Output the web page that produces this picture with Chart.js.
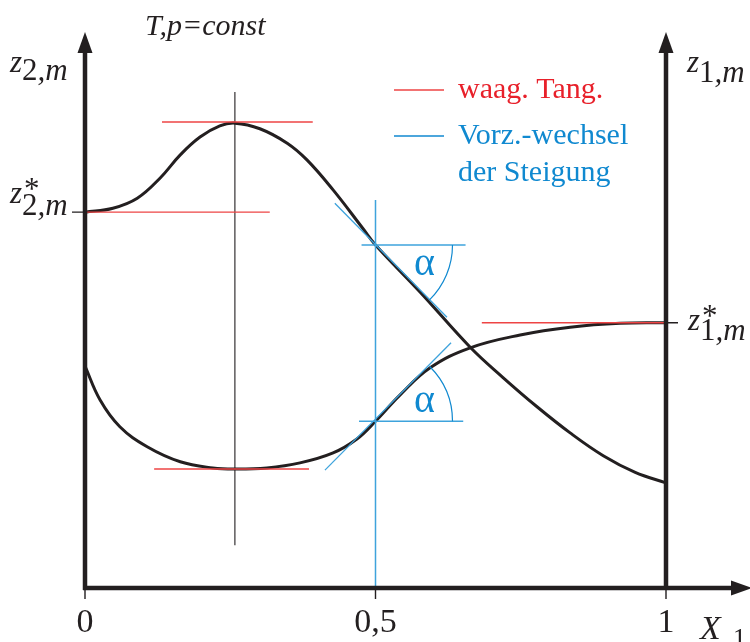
<!DOCTYPE html>
<html>
<head>
<meta charset="utf-8">
<title>z1,m und z2,m über X1</title>
<script src="https://cdn.jsdelivr.net/npm/chart.js@4.4.1/dist/chart.umd.min.js"></script>
<style>
  html, body { margin: 0; padding: 0; background: #fff; }
</style>
</head>
<body>
<canvas id="zChart" width="750" height="642"></canvas>
<script>
// Molenbruch X1 und die beiden Kurven z2,m (oben) und z1,m (unten)
const z2X = [0, 0.048, 0.09, 0.129, 0.164, 0.198, 0.232, 0.258, 0.301, 0.348, 0.382, 0.427, 0.478, 0.5, 0.577, 0.663, 0.719, 0.778, 0.835, 0.892, 0.947, 1];
const z2Y = [0.676, 0.683, 0.701, 0.737, 0.779, 0.811, 0.831, 0.836, 0.826, 0.800, 0.770, 0.716, 0.647, 0.617, 0.532, 0.433, 0.379, 0.326, 0.279, 0.238, 0.208, 0.189];
const z1X = [0, 0.026, 0.060, 0.107, 0.164, 0.220, 0.258, 0.313, 0.370, 0.427, 0.468, 0.5, 0.542, 0.594, 0.663, 0.749, 0.835, 0.921, 1];
const z1Y = [0.399, 0.338, 0.290, 0.254, 0.227, 0.216, 0.214, 0.216, 0.225, 0.243, 0.268, 0.300, 0.347, 0.396, 0.432, 0.455, 0.469, 0.476, 0.477];

// Achsenbeschriftung
const tickValues = [0, 0.5, 1];
const tickLabels = ['0', '0,5', '1'];

// waagerechte Tangenten: [x von, x bis, y]
const flatTangents = [
  [0.1325, 0.392, 0.838],
  [0, 0.318, 0.676],
  [0.119, 0.3855, 0.214],
  [0.683, 1, 0.477]
];
// Wendetangenten (Vorzeichenwechsel der Steigung): [x1, y1, x2, y2]
const slopeTangents = [
  [0.430, 0.692, 0.623, 0.487],
  [0.413, 0.212, 0.630, 0.441]
];
// Hilfslinien am Wendepunkt: [x von, x bis, y]
const slopeLevels = [
  [0.476, 0.655, 0.617],
  [0.4716, 0.651, 0.300]
];
const z2Star = 0.676;
const z1Star = 0.477;
const xExtremum = 0.258;
const xInflection = 0.5;

const INK = '#231f20';
const RED = '#ee4444';
const RED_TEXT = '#e8202a';
const BLUE = '#3ea3dc';
const BLUE_TEXT = '#1089d0';
const SERIF = '"Liberation Serif", "DejaVu Serif", serif';

const pts = (xs, ys) => xs.map((x, i) => ({ x: x, y: ys[i] }));

const datasets = [];
flatTangents.forEach(t => datasets.push({
  data: [{ x: t[0], y: t[2] }, { x: t[1], y: t[2] }],
  borderColor: RED, borderWidth: 1.4
}));
slopeLevels.forEach(t => datasets.push({
  data: [{ x: t[0], y: t[2] }, { x: t[1], y: t[2] }],
  borderColor: BLUE, borderWidth: 1.6
}));
slopeTangents.forEach(t => datasets.push({
  data: [{ x: t[0], y: t[1] }, { x: t[2], y: t[3] }],
  borderColor: BLUE, borderWidth: 1.3
}));
datasets.push({
  data: [{ x: xExtremum, y: 0.892 }, { x: xExtremum, y: 0.077 }],
  borderColor: INK, borderWidth: 1.1
});
datasets.push({
  data: [{ x: xInflection, y: 0.698 }, { x: xInflection, y: 0 }],
  borderColor: BLUE, borderWidth: 1.5
});
datasets.push({
  label: 'z2,m', data: pts(z2X, z2Y),
  borderColor: INK, borderWidth: 3, tension: 0.4
});
datasets.push({
  label: 'z1,m', data: pts(z1X, z1Y),
  borderColor: INK, borderWidth: 3, tension: 0.4
});
datasets.forEach(d => { d.showLine = true; d.pointRadius = 0; d.clip = false; d.fill = false; });

// z mit Index (und optional Stern)
function zLabel(ctx, x, base, idx, star, subDrop) {
  ctx.fillStyle = INK;
  ctx.textAlign = 'left';
  ctx.textBaseline = 'alphabetic';
  ctx.font = 'italic 31px ' + SERIF;
  ctx.fillText('z', x, base);
  const zw = ctx.measureText('z').width;
  ctx.font = '31px ' + SERIF;
  ctx.fillText(idx, x + zw, base + subDrop);
  const dw = ctx.measureText(idx).width;
  ctx.font = 'italic 31px ' + SERIF;
  ctx.fillText(',m', x + zw + dw, base + subDrop);
  if (star) {
    ctx.font = '31px ' + SERIF;
    ctx.fillText('*', x + zw + 2, base - 4);
  }
}

const decoration = {
  id: 'decoration',
  afterDatasetsDraw(chart) {
    const ctx = chart.ctx;
    const xs = chart.scales.x, ys = chart.scales.y;
    const X = v => xs.getPixelForValue(v);
    const Y = v => ys.getPixelForValue(v);
    const x0 = X(0), x1 = X(1), yb = Y(0), yt = Y(1);
    ctx.save();

    // Achsen
    ctx.strokeStyle = INK;
    ctx.fillStyle = INK;
    ctx.lineWidth = 4.5;
    ctx.lineCap = 'butt';
    ctx.beginPath();
    ctx.moveTo(x0, yt + 16); ctx.lineTo(x0, yb + 2);
    ctx.moveTo(x0 - 2, yb); ctx.lineTo(735, yb);
    ctx.moveTo(x1, yt + 16); ctx.lineTo(x1, yb + 2);
    ctx.stroke();
    const arrowUp = (x) => {
      ctx.beginPath();
      ctx.moveTo(x, yt); ctx.lineTo(x - 7.5, yt + 21); ctx.lineTo(x + 7.5, yt + 21); ctx.closePath(); ctx.fill();
    };
    arrowUp(x0); arrowUp(x1);
    ctx.beginPath();
    ctx.moveTo(752, yb); ctx.lineTo(731, yb - 7.5); ctx.lineTo(731, yb + 7.5); ctx.closePath(); ctx.fill();

    // Teilstriche
    ctx.lineWidth = 1.4;
    ctx.beginPath();
    tickValues.forEach(v => { ctx.moveTo(X(v), yb + 2); ctx.lineTo(X(v), yb + 11); });
    ctx.moveTo(x0 - 13, Y(z2Star)); ctx.lineTo(x0, Y(z2Star));
    ctx.moveTo(x1, Y(z1Star)); ctx.lineTo(x1 + 12, Y(z1Star));
    ctx.stroke();

    ctx.font = '34px ' + SERIF;
    ctx.textAlign = 'center';
    ctx.textBaseline = 'alphabetic';
    tickValues.forEach((v, i) => ctx.fillText(tickLabels[i], X(v), yb + 44));

    // X1
    ctx.textAlign = 'left';
    ctx.font = 'italic 34px ' + SERIF;
    ctx.fillText('X', 700, yb + 51);
    ctx.font = '26px ' + SERIF;
    ctx.fillText('1', 733, yb + 58);

    // Achsentitel
    zLabel(ctx, 10, 72, '2', false, 8);
    zLabel(ctx, 687, 72, '1', false, 10);
    zLabel(ctx, 10, 203, '2', true, 12);
    zLabel(ctx, 688, 330, '1', true, 10);

    ctx.font = 'italic 30px ' + SERIF;
    ctx.fillText('T,p=const', 145, 35);

    // Winkelbögen am Wendepunkt
    ctx.strokeStyle = BLUE_TEXT;
    ctx.lineWidth = 1.2;
    const up = slopeTangents[0], lo = slopeTangents[1];
    const cu = { x: X(xInflection), y: Y(slopeLevels[0][2]) };
    const cl = { x: X(xInflection), y: Y(slopeLevels[1][2]) };
    const au = Math.atan2(Y(up[3]) - Y(up[1]), X(up[2]) - X(up[0]));
    const al = Math.atan2(Y(lo[3]) - Y(lo[1]), X(lo[2]) - X(lo[0]));
    ctx.beginPath(); ctx.arc(cu.x, cu.y, 77, 0, au); ctx.stroke();
    ctx.beginPath(); ctx.arc(cl.x, cl.y, 77, al, 0); ctx.stroke();
    ctx.fillStyle = BLUE_TEXT;
    ctx.font = '40px ' + SERIF;
    ctx.textAlign = 'center';
    ctx.textBaseline = 'middle';
    ctx.fillText('α', cu.x + 49, cu.y + 20);
    ctx.fillText('α', cl.x + 49, cl.y - 20);

    // Legende
    ctx.textAlign = 'left';
    ctx.textBaseline = 'alphabetic';
    ctx.lineWidth = 1.4;
    ctx.strokeStyle = RED;
    ctx.beginPath(); ctx.moveTo(394, 90); ctx.lineTo(444, 90); ctx.stroke();
    ctx.strokeStyle = BLUE_TEXT;
    ctx.beginPath(); ctx.moveTo(394, 136); ctx.lineTo(444, 136); ctx.stroke();
    ctx.font = '30px ' + SERIF;
    ctx.fillStyle = RED_TEXT;
    ctx.fillText('waag. Tang.', 458, 98);
    ctx.fillStyle = BLUE_TEXT;
    ctx.fillText('Vorz.-wechsel', 458, 144);
    ctx.fillText('der Steigung', 458, 181);

    ctx.restore();
  }
};

new Chart(document.getElementById('zChart').getContext('2d'), {
  type: 'scatter',
  data: { datasets: datasets },
  options: {
    responsive: false,
    animation: false,
    layout: { padding: { left: 85, right: 84, top: 32, bottom: 54 } },
    scales: {
      x: { type: 'linear', min: 0, max: 1, display: false },
      y: { type: 'linear', min: 0, max: 1, display: false }
    },
    plugins: {
      legend: { display: false },
      tooltip: { enabled: false }
    }
  },
  plugins: [decoration]
});
</script>
</body>
</html>
